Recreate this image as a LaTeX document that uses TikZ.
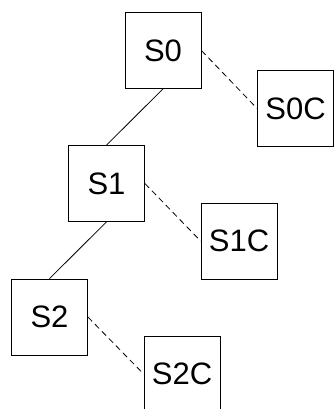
\documentclass[tikz,border=0pt]{standalone}
\usepackage{fontspec}
\setmainfont{Liberation Sans}
\begin{document}
\begin{tikzpicture}[x=1pt,y=-1pt,
  box/.style={draw, line width=0.8pt, minimum width=76pt, minimum height=76pt, inner sep=0pt, font=\fontsize{31}{31}\selectfont},
  tree/.style={line width=0.8pt},
  link/.style={line width=0.8pt, dash pattern=on 6pt off 4pt}]
\useasboundingbox (0,0) rectangle (336,409);
\clip (0,0) rectangle (336,409);
\node[box] (s0) at (163,50.5) {S0};
\node[box] (s0c) at (295.5,108.5) {S0C};
\node[box] (s1) at (106.5,183.5) {S1};
\node[box] (s1c) at (239,241) {S1C};
\node[box] (s2) at (49.5,317) {S2};
\node[box] (s2c) at (182,374) {S2C};
\draw[tree] (s0.south) -- (s1.north);
\draw[tree] (s1.south) -- (s2.north);
\draw[link] (s0.east) -- (s0c.west);
\draw[link] (s1.east) -- (s1c.west);
\draw[link] (s2.east) -- (s2c.west);
\end{tikzpicture}
\end{document}
